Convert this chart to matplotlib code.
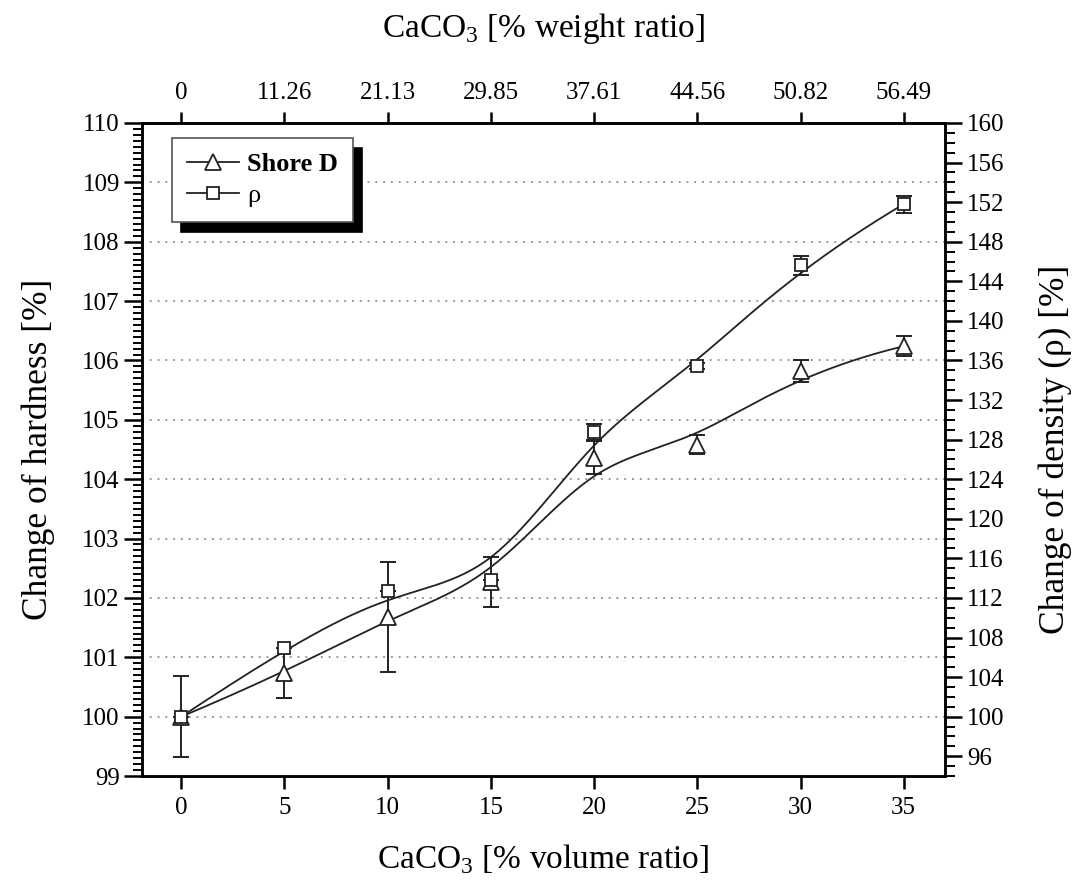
import numpy as np
import matplotlib.pyplot as plt
from matplotlib.lines import Line2D
from matplotlib.ticker import MultipleLocator

plt.rcParams['font.family'] = ['Liberation Serif', 'DejaVu Serif']
plt.rcParams['mathtext.fontset'] = 'custom'
plt.rcParams['mathtext.rm'] = 'Liberation Serif'

# CaCO3 content of the samples
volume_ratio = [0, 5, 10, 15, 20, 25, 30, 35]
weight_ratio = [0, 11.26, 21.13, 29.85, 37.61, 44.56, 50.82, 56.49]

# Shore D hardness relative to the neat sample [%]
shore_d = [100.0, 100.73, 101.68, 102.27, 104.36, 104.58, 105.82, 106.24]
shore_d_err = [0.68, 0.42, 0.92, 0.42, 0.28, 0.16, 0.18, 0.17]

# density relative to the neat sample [%]
rho = [100.0, 106.9, 112.7, 113.8, 128.8, 135.4, 145.6, 151.8]
rho_err = [0.0, 0.0, 0.0, 0.0, 0.8, 0.3, 1.0, 0.85]


def bspline(px, py, n=400, k=3):
    # clamped uniform B-spline using the points as control polygon
    m = len(px)
    knots = np.concatenate([np.zeros(k), np.arange(m - k + 1), np.full(k, m - k)]).astype(float)
    t = np.linspace(0, m - k, n)

    def basis(i, p):
        if p == 0:
            b = ((t >= knots[i]) & (t < knots[i + 1])).astype(float)
            if knots[i + 1] == knots[-1] and knots[i] < knots[i + 1]:
                b[t == knots[-1]] = 1.0
            return b
        out = np.zeros_like(t)
        d1 = knots[i + p] - knots[i]
        d2 = knots[i + p + 1] - knots[i + 1]
        if d1 > 0:
            out += (t - knots[i]) / d1 * basis(i, p - 1)
        if d2 > 0:
            out += (knots[i + p + 1] - t) / d2 * basis(i + 1, p - 1)
        return out

    B = np.array([basis(i, k) for i in range(m)])
    return B.T @ np.asarray(px, float), B.T @ np.asarray(py, float)


fig = plt.figure(figsize=(10.81, 8.88), dpi=100)
ax = fig.add_axes([0.1314, 0.1261, 0.7428, 0.7354])
ax2 = ax.twinx()

ax.set_xlim(-1.9, 37.0)
ax.set_ylim(99, 110)
ax2.set_ylim(94, 160)

# horizontal dotted grid at the hardness ticks
for yv in range(100, 110):
    ax.axhline(yv, color='#9a9a9a', lw=1.4, ls=(0, (1, 3)), zorder=0)

lw_curve = 1.3
sx, sy = bspline(volume_ratio, shore_d)
ax.plot(sx, sy, color='#222222', lw=lw_curve, zorder=2)
ax.errorbar(volume_ratio, shore_d, yerr=shore_d_err, fmt='none', ecolor='#222222',
            elinewidth=1.4, capsize=6, capthick=1.4, zorder=3)
ax.plot(volume_ratio, shore_d, ls='none', marker='^', ms=11, mfc='white',
        mec='#222222', mew=1.3, zorder=4)

rx, ry = bspline(volume_ratio, rho)
ax2.plot(rx, ry, color='#222222', lw=lw_curve, zorder=2)
ax2.errorbar(volume_ratio, rho, yerr=rho_err, fmt='none', ecolor='#222222',
             elinewidth=1.4, capsize=6, capthick=1.4, zorder=3)
ax2.plot(volume_ratio, rho, ls='none', marker='s', ms=9, mfc='white',
         mec='#222222', mew=1.3, zorder=4)

# ticks and spines
for a in (ax, ax2):
    for sp in a.spines.values():
        sp.set_linewidth(1.8)

ax.set_xticks(volume_ratio)
ax.yaxis.set_major_locator(MultipleLocator(1))
ax.yaxis.set_minor_locator(MultipleLocator(0.1))
ax.tick_params(axis='x', which='major', direction='out', length=9, width=1.8,
               labelsize=18, pad=6)
ax.tick_params(axis='y', which='major', direction='out', length=13, width=1.8,
               labelsize=18, pad=3)
ax.tick_params(axis='y', which='minor', direction='out', length=6.5, width=1.4)

ax2.yaxis.set_major_locator(MultipleLocator(4))
ax2.yaxis.set_minor_locator(MultipleLocator(1))
ax2.set_yticks(np.arange(96, 161, 4))
ax2.tick_params(axis='y', which='major', direction='out', length=12, width=1.8,
                labelsize=18, pad=4)
ax2.tick_params(axis='y', which='minor', direction='out', length=7, width=1.4)

top = ax.secondary_xaxis('top')
top.set_xticks(volume_ratio)
top.set_xticklabels(['%g' % w for w in weight_ratio])
top.tick_params(direction='out', length=8, width=1.8, labelsize=18, pad=6)
top.set_xlabel(r'CaCO$_{\mathrm{3}}$ [% weight ratio]', fontsize=24, labelpad=32)

ax.set_xlabel(r'CaCO$_{\mathrm{3}}$ [% volume ratio]', fontsize=24, labelpad=17)
ax.set_ylabel('Change of hardness [%]', fontsize=25.5, labelpad=20)
ax2.set_ylabel('Change of density (ρ) [%]', fontsize=25.5, labelpad=24)

# legend with a hard black drop shadow
handles = [
    Line2D([], [], color='#222222', lw=1.3, marker='^', ms=11, mfc='white', mec='#222222', mew=1.3),
    Line2D([], [], color='#222222', lw=1.3, marker='s', ms=9, mfc='white', mec='#222222', mew=1.3),
]
leg = ax2.legend(handles, ['Shore D', 'ρ'], loc='upper left',
                 bbox_to_anchor=(172 / 1081, 1 - 138 / 888), bbox_transform=fig.transFigure,
                 fontsize=19, frameon=True, fancybox=False, numpoints=1,
                 handlelength=2.0, handletextpad=0.3, borderpad=0.55, labelspacing=0.3,
                 borderaxespad=0,
                 shadow={'ox': 6.5, 'oy': -7, 'color': 'black', 'alpha': 1})
leg.get_frame().set_edgecolor('#555555')
leg.get_frame().set_linewidth(1.2)
leg.get_texts()[0].set_fontweight('bold')

fig.savefig('out.png', dpi=100)
